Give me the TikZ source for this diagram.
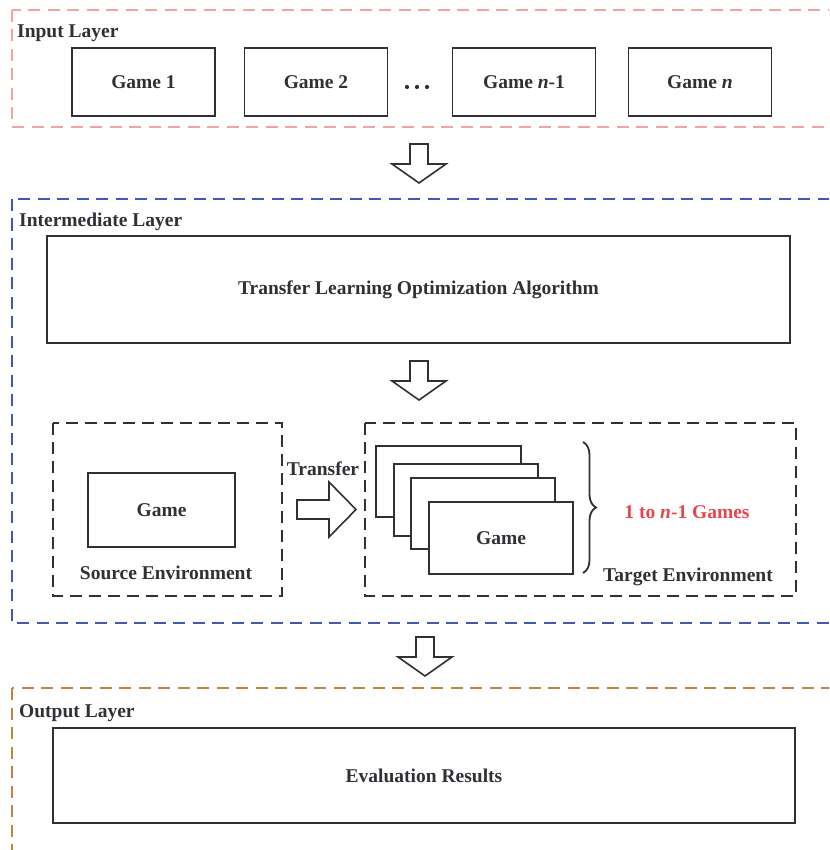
\documentclass[tikz,border=0pt]{standalone}
\usepackage{fontspec}
\setmainfont{Liberation Serif}
\usetikzlibrary{decorations.pathreplacing}
\definecolor{inkc}{HTML}{2E3135}
\definecolor{inputc}{HTML}{F4A3A3}
\definecolor{midc}{HTML}{4358B5}
\definecolor{outc}{HTML}{C4843E}
\definecolor{redc}{HTML}{E5474E}
\tikzset{
  lbl/.style={font=\fontsize{19.5}{22}\selectfont\bfseries, text=inkc, inner sep=0pt},
  layerframe/.style={line width=1.6pt, dash pattern=on 12pt off 7.5pt},
  gamebox/.style={draw=inkc, line width=1.9pt, fill=white, inner sep=0pt, lbl},
  envbox/.style={draw=inkc, line width=1.7pt, dash pattern=on 12pt off 7pt},
  blockarrow/.style={draw=inkc, line width=1.6pt, fill=white, line join=miter},
  downarrow/.pic={\draw[blockarrow] (-9,0) -- (-9,20) -- (-27,20) -- (0,39) -- (27,20) -- (9,20) -- (9,0) -- cycle;}
}
\begin{document}
\begin{tikzpicture}[x=1pt,y=-1pt]
\clip (0,0) rectangle (829,850);
\fill[white] (0,0) rectangle (829,850);

% Input layer
\draw[layerframe, draw=inputc] (12,10) rectangle (845,127);
\node[lbl, anchor=west] (inlbl) at (17,33) {Input Layer};
\node[gamebox, minimum width=143pt, minimum height=68pt] (g1) at (143.5,82) {Game 1};
\node[gamebox, minimum width=143pt, minimum height=68pt] (g2) at (316,82) {Game 2};
\node[gamebox, minimum width=143pt, minimum height=68pt] (gn1) at (524,82) {Game \textit{n}-1};
\node[gamebox, minimum width=143pt, minimum height=68pt] (gn) at (700,82) {Game \textit{n}};
\foreach \dx in {407,417,427} \fill[inkc] (\dx,87) circle (2.1pt);

\pic at (419,144) {downarrow};

% Intermediate layer
\draw[layerframe, draw=midc] (12,199) rectangle (845,623);
\node[lbl, anchor=west] (midlbl) at (19,222) {Intermediate Layer};
\node[gamebox, minimum width=743pt, minimum height=107pt] (tloa) at (418.5,289.5) {Transfer Learning Optimization Algorithm};

\pic at (419,361) {downarrow};

% Source environment
\draw[envbox] (53,423) rectangle (282,596);
\node[gamebox, minimum width=147pt, minimum height=74pt] (src) at (161.5,510) {Game};
\node[lbl] (srclbl) at (166,573) {Source Environment};

% Transfer arrow
\node[lbl] (trlbl) at (323,469) {Transfer};
\draw[blockarrow] (297,500) -- (329,500) -- (329,482) -- (356,509.5) -- (329,537) -- (329,519) -- (297,519) -- cycle;

% Target environment
\draw[envbox] (365,423) rectangle (796,596);
\node[gamebox, minimum width=145pt, minimum height=71pt] (t1) at (448.5,481.5) {};
\node[gamebox, minimum width=144pt, minimum height=72pt] (t2) at (466,500) {};
\node[gamebox, minimum width=144pt, minimum height=71pt] (t3) at (483,513.5) {};
\node[gamebox, minimum width=144pt, minimum height=72pt] (t4) at (501,538) {Game};
\draw[draw=inkc, line width=1.8pt, decorate, decoration={brace, amplitude=13pt}] (583,442) -- (583,573);
\node[lbl, text=redc] (cnt) at (687,512) {1 to \textit{n}-1 Games};
\node[lbl] (tgtlbl) at (688,577) {Target Environment};

\pic at (425,637) {downarrow};

% Output layer
\draw[layerframe, draw=outc] (12,688) rectangle (845,870);
\node[lbl, anchor=west] (outlbl) at (19,713) {Output Layer};
\node[gamebox, minimum width=742pt, minimum height=95pt] (eval) at (424,775.5) {Evaluation Results};
\end{tikzpicture}
\end{document}
